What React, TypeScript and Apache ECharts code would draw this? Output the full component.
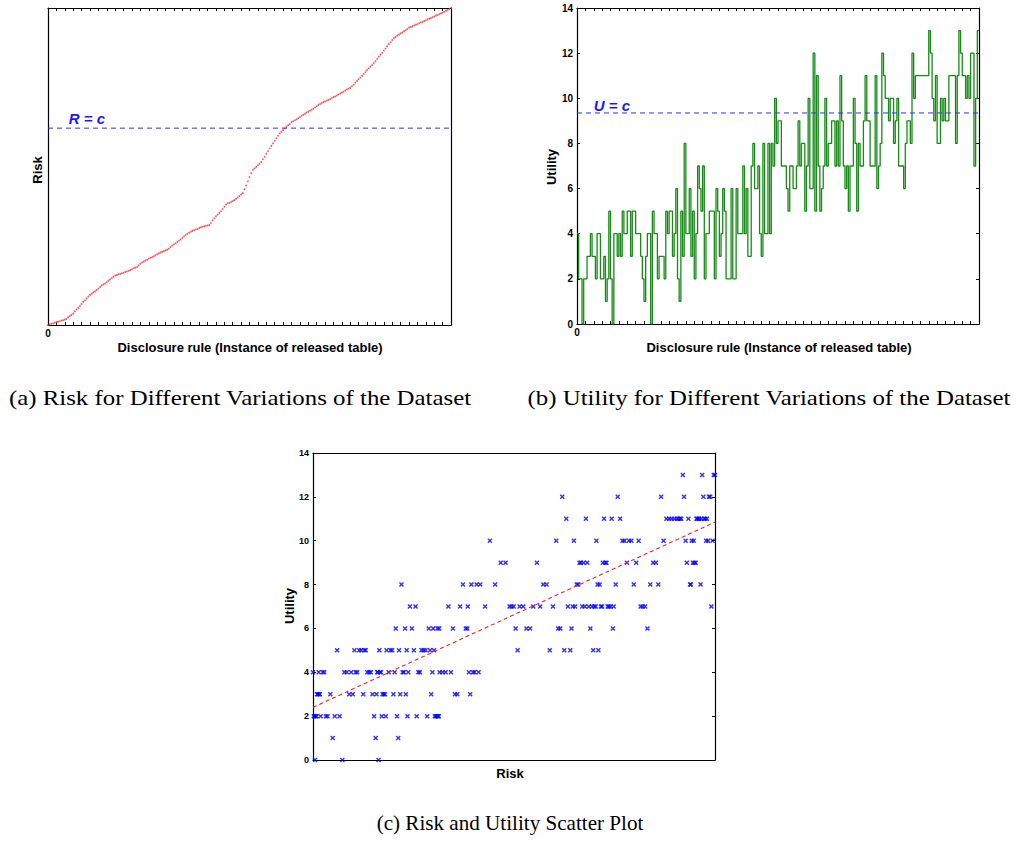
import React, { useEffect, useRef } from "react";
import * as echarts from "echarts";

// Risk of each disclosure rule (sorted), normalised scale 0..100
const risk: number[] = [
  0, 0.2, 0.4, 0.5, 0.7, 0.9, 1.0, 1.2, 1.4, 1.5,
  1.7, 1.9, 2.4, 2.8, 3.2, 3.6, 4.3, 4.9, 5.4, 6.0,
  6.6, 7.3, 7.8, 8.4, 9.0, 9.5, 9.9, 10.3, 10.6, 11.0,
  11.5, 12.0, 12.5, 12.8, 13.1, 13.5, 14.0, 14.4, 14.8, 15.2,
  15.6, 15.8, 16.0, 16.1, 16.3, 16.5, 16.7, 16.9, 17.1, 17.3,
  17.6, 17.9, 18.1, 18.3, 18.8, 19.3, 19.7, 20.0, 20.3, 20.6,
  20.9, 21.2, 21.4, 21.7, 22.0, 22.3, 22.6, 22.9, 23.1, 23.3,
  23.5, 23.7, 24.1, 24.6, 25.1, 25.5, 25.8, 26.2, 26.6, 27.0,
  27.5, 28.0, 28.4, 28.8, 29.1, 29.4, 29.7, 29.9, 30.1, 30.3,
  30.6, 30.8, 31.0, 31.1, 31.3, 31.4, 31.5, 32.2, 33.0, 33.7,
  34.3, 34.8, 35.3, 35.9, 36.6, 37.3, 38.0, 38.4, 38.5, 38.8,
  39.1, 39.4, 39.8, 40.2, 40.7, 41.2, 41.6, 42.8, 44.0, 45.3,
  46.7, 47.9, 48.9, 49.4, 49.9, 50.4, 50.9, 51.4, 52.3, 53.1,
  54.0, 54.8, 55.7, 56.5, 57.3, 58.1, 58.9, 59.7, 60.5, 61.0,
  61.5, 62.0, 62.5, 63.0, 63.4, 64.0, 64.3, 64.6, 64.9, 65.2,
  65.6, 66.0, 66.3, 66.6, 67.0, 67.3, 67.6, 67.9, 68.2, 68.6,
  69.0, 69.4, 69.7, 70.0, 70.3, 70.5, 70.8, 71.0, 71.3, 71.6,
  71.9, 72.1, 72.4, 72.7, 73.0, 73.3, 73.6, 74.0, 74.3, 74.6,
  74.8, 75.3, 75.8, 76.4, 77.0, 77.5, 78.1, 78.6, 79.2, 79.8,
  80.4, 81.0, 81.5, 82.0, 82.6, 83.2, 83.9, 84.6, 85.3, 85.9,
  86.6, 87.2, 87.9, 88.6, 89.2, 89.9, 90.5, 90.9, 91.3, 91.6,
  92.0, 92.3, 92.7, 93.0, 93.4, 93.8, 94.0, 94.2, 94.5, 94.7,
  94.9, 95.2, 95.4, 95.6, 95.9, 96.1, 96.4, 96.6, 96.8, 97.1,
  97.3, 97.6, 97.8, 98.0, 98.3, 98.5, 98.8, 99.1, 99.4, 99.7,
  100,
];

// Utility of each disclosure rule (same order as risk)
const utility: number[] = [
  4, 2, 2, 0, 2, 2, 3, 3, 4, 3,
  3, 2, 4, 4, 2, 2, 3, 1, 2, 5,
  2, 0, 4, 4, 3, 4, 3, 5, 4, 4,
  5, 5, 3, 5, 5, 4, 4, 4, 3, 2,
  1, 3, 4, 4, 0, 5, 4, 4, 2, 3,
  3, 3, 2, 5, 4, 5, 5, 3, 4, 6,
  2, 1, 5, 3, 8, 4, 4, 6, 3, 5,
  2, 4, 7, 6, 5, 7, 2, 4, 4, 5,
  5, 5, 2, 6, 5, 3, 4, 6, 5, 2,
  2, 2, 6, 2, 2, 6, 4, 4, 4, 7,
  4, 6, 3, 3, 7, 8, 6, 6, 7, 4,
  3, 8, 4, 4, 8, 4, 8, 7, 10, 8,
  9, 9, 7, 7, 7, 6, 5, 7, 7, 6,
  6, 7, 9, 7, 8, 8, 5, 7, 10, 6,
  6, 12, 5, 11, 7, 5, 6, 7, 10, 7,
  8, 8, 9, 9, 7, 9, 7, 11, 9, 7,
  6, 7, 5, 7, 7, 10, 8, 5, 8, 7,
  7, 9, 11, 9, 9, 7, 7, 7, 11, 6,
  7, 8, 12, 11, 10, 10, 9, 10, 10, 8,
  9, 10, 7, 7, 7, 6, 8, 9, 9, 8,
  12, 10, 11, 11, 11, 11, 11, 11, 11, 11,
  13, 12, 10, 9, 11, 8, 8, 10, 9, 10,
  9, 9, 11, 11, 11, 11, 8, 11, 13, 12,
  11, 11, 10, 11, 10, 12, 12, 7, 10, 13,
  13,
];

const riskThreshold = 62.1; // R = c
const utilityThreshold = 9.35; // U = c
const trendRisk = [0, 100];
const trendUtility = [2.4, 10.85];
const utilityTicks = [0, 2, 4, 6, 8, 10, 12, 14];

const SANS = "'Liberation Sans', Arial, sans-serif";
const SERIF = "'Liberation Serif', 'Times New Roman', serif";
const XMARK = "path://M0,2 L2,0 L5,3 L8,0 L10,2 L7,5 L10,8 L8,10 L5,7 L2,10 L0,8 L3,5 Z";

export default function App() {
  const ref = useRef<HTMLDivElement>(null);
  useEffect(() => {
    if (!ref.current) return;
    const chart = echarts.init(ref.current, undefined, { renderer: "svg" });
    const n = risk.length - 1;
    const axisLine = { show: true, onZero: false, lineStyle: { color: "#000", width: 1.2 } };
    const tickIn = { show: true, inside: true, length: 3, lineStyle: { color: "#000" } };
    const noTick = { show: false };
    const noLabel = { show: false };
    const zeroOnly = {
      show: true,
      formatter: (v: number) => (v === 0 ? "0" : ""),
      fontFamily: SANS,
      fontWeight: "bold",
      fontSize: 10,
      color: "#000",
      margin: 3,
    };
    const uLabel = (size: number) => ({
      show: true,
      fontFamily: SANS,
      fontWeight: "bold",
      fontSize: size,
      color: "#000",
      margin: 4,
    });
    const base = { type: "value", splitLine: { show: false }, axisLine };
    const txt = (x: number, y: number, text: string, font: string, extra: any = {}, fill = "#000") => ({
      type: "text",
      x,
      y,
      ...extra,
      style: { text, font, fill, textAlign: "center", textVerticalAlign: "middle" },
    });

    const option: any = {
      animation: false,
      backgroundColor: "#fff",
      grid: [
        { left: 48, top: 8, width: 403, height: 317 },
        { left: 577, top: 8, width: 402, height: 316 },
        { left: 313, top: 453, width: 402, height: 307 },
      ],
      xAxis: [
        { ...base, gridIndex: 0, position: "bottom", min: 0, max: n, interval: 5, axisTick: tickIn, axisLabel: zeroOnly },
        { ...base, gridIndex: 0, position: "top", min: 0, max: n, interval: 5, axisTick: tickIn, axisLabel: noLabel },
        { ...base, gridIndex: 1, position: "bottom", min: 0, max: n, interval: 5, axisTick: tickIn, axisLabel: zeroOnly },
        { ...base, gridIndex: 1, position: "top", min: 0, max: n, interval: 5, axisTick: tickIn, axisLabel: noLabel },
        { ...base, gridIndex: 2, position: "bottom", min: 0, max: 100, axisTick: noTick, axisLabel: noLabel },
        { ...base, gridIndex: 2, position: "top", min: 0, max: 100, axisTick: noTick, axisLabel: noLabel },
      ],
      yAxis: [
        { ...base, gridIndex: 0, position: "left", min: 0, max: 100, axisTick: noTick, axisLabel: noLabel },
        { ...base, gridIndex: 0, position: "right", min: 0, max: 100, axisTick: noTick, axisLabel: noLabel },
        { ...base, gridIndex: 1, position: "left", min: utilityTicks[0], max: utilityTicks[utilityTicks.length - 1], interval: 2, axisTick: tickIn, axisLabel: uLabel(10) },
        { ...base, gridIndex: 1, position: "right", min: 0, max: 14, interval: 2, axisTick: tickIn, axisLabel: noLabel },
        { ...base, gridIndex: 2, position: "left", min: 0, max: 14, interval: 2, axisTick: tickIn, axisLabel: uLabel(9) },
        { ...base, gridIndex: 2, position: "right", min: 0, max: 14, interval: 2, axisTick: tickIn, axisLabel: noLabel },
      ],
      series: [
        {
          type: "scatter",
          xAxisIndex: 0,
          yAxisIndex: 0,
          data: risk.map((r, i) => [i, r]),
          symbol: "circle",
          symbolSize: 1.8,
          itemStyle: { color: "#ff3030" },
        },
        {
          type: "line",
          xAxisIndex: 0,
          yAxisIndex: 0,
          data: [[0, riskThreshold], [n, riskThreshold]],
          symbol: "none",
          lineStyle: { color: "#3030ff", width: 1, type: [5, 4] },
        },
        {
          type: "line",
          xAxisIndex: 2,
          yAxisIndex: 2,
          step: "end",
          data: utility.map((u, i) => [i, u]),
          symbol: "none",
          lineStyle: { color: "#178a17", width: 1.3 },
        },
        {
          type: "line",
          xAxisIndex: 2,
          yAxisIndex: 2,
          data: [[0, utilityThreshold], [n, utilityThreshold]],
          symbol: "none",
          lineStyle: { color: "#3030ff", width: 1, type: [5, 4] },
        },
        {
          type: "scatter",
          xAxisIndex: 4,
          yAxisIndex: 4,
          data: risk.map((r, i) => [r, utility[i]]),
          symbol: XMARK,
          symbolSize: 5,
          itemStyle: { color: "#0000ff" },
        },
        {
          type: "line",
          xAxisIndex: 4,
          yAxisIndex: 4,
          data: trendRisk.map((r, i) => [r, trendUtility[i]]),
          symbol: "none",
          lineStyle: { color: "#ff2020", width: 1.1, type: [4, 3] },
        },
      ],
      graphic: [
        txt(37, 170, "Risk", `bold 13px ${SANS}`, { rotation: Math.PI / 2 }),
        txt(250, 347, "Disclosure rule (Instance of released table)", `bold 13px ${SANS}`),
        txt(87, 118, "R = c", `italic bold 15px ${SANS}`, {}, "#1a1aff"),
        txt(551, 167, "Utility", `bold 13px ${SANS}`, { rotation: Math.PI / 2 }),
        txt(779, 347, "Disclosure rule (Instance of released table)", `bold 13px ${SANS}`),
        txt(612, 105, "U = c", `italic bold 15px ${SANS}`, {}, "#1a1aff"),
        txt(289, 606, "Utility", `bold 13px ${SANS}`, { rotation: Math.PI / 2 }),
        txt(510, 773, "Risk", `bold 13px ${SANS}`),
        txt(240, 398, "(a) Risk for Different Variations of the Dataset", `22px ${SERIF}`, { scaleX: 1.13 }),
        txt(769, 398, "(b) Utility for Different Variations of the Dataset", `22px ${SERIF}`, { scaleX: 1.13 }),
        txt(510, 823, "(c) Risk and Utility Scatter Plot", `22px ${SERIF}`, { scaleX: 0.96 }),
      ],
    };
    chart.setOption(option);
    return () => chart.dispose();
  }, []);
  return (
    <div
      ref={ref}
      style={{ position: "fixed", left: 0, top: 0, width: 1016, height: 848, background: "#fff" }}
    />
  );
}
